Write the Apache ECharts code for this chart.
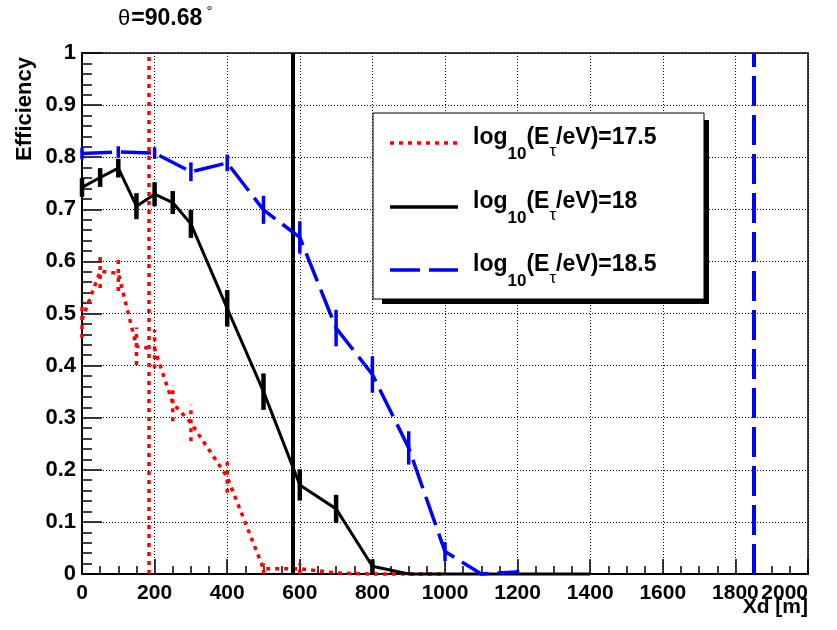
<!DOCTYPE html>
<html><head><meta charset="utf-8">
<script src="https://cdn.jsdelivr.net/npm/echarts@6/dist/echarts.min.js"></script>
<style>html,body{margin:0;padding:0;background:#fff}#c{width:837px;height:630px}</style>
</head><body><div id="c"></div>
<script>
// ---- data ----
const redX = [0, 50, 100, 150, 200, 250, 300, 400, 500, 600, 700, 800, 900, 1000];
const redY = [0.488, 0.581, 0.577, 0.437, 0.432, 0.328, 0.29, 0.186, 0.01, 0.01, 0.002, 0, 0, 0];
const redErr = [0.035, 0.032, 0.034, 0.036, 0.037, 0.035, 0.035, 0.03, 0.01, 0.01, 0, 0, 0, 0];
const blackX = [0, 50, 100, 150, 200, 250, 300, 400, 500, 600, 700, 800, 900, 1000, 1100, 1200, 1300, 1400];
const blackY = [0.742, 0.761, 0.779, 0.706, 0.729, 0.713, 0.672, 0.51, 0.35, 0.171, 0.125, 0.015, 0, 0, 0, 0, 0, 0];
const blackErr = [0.018, 0.018, 0.018, 0.025, 0.023, 0.022, 0.027, 0.035, 0.035, 0.03, 0.027, 0.013, 0, 0, 0, 0, 0, 0];
const blueX = [0, 100, 200, 300, 400, 500, 600, 700, 800, 900, 1000, 1100, 1200];
const blueY = [0.807, 0.81, 0.808, 0.772, 0.789, 0.699, 0.646, 0.472, 0.383, 0.242, 0.043, 0, 0.004];
const blueErr = [0.011, 0.011, 0.011, 0.018, 0.016, 0.027, 0.031, 0.035, 0.035, 0.032, 0.018, 0, 0.004];
const redCut = 185, blackCut = 580, blueCut = 1850;
const legendLabels = ['17.5', '18', '18.5'];
const titleText = '90.68';

const FONT = 'Liberation Sans, Arial, Helvetica, sans-serif';
const RED = '#ff0000', BLACK = '#000000', BLUE = '#0000ff';
const RED_DASH = [4, 5], BLUE_DASH = [30, 9];

function pairs(xs, ys) { return xs.map((x, i) => [x, ys[i]]); }
function triples(xs, ys, es) { return xs.map((x, i) => [x, ys[i], es[i]]); }

function lineSeries(xs, ys, color, width, type, cut, cutWidth, z) {
  return {
    type: 'line', data: pairs(xs, ys), symbol: 'none', showSymbol: false, clip: false,
    lineStyle: { color: color, width: width, type: type }, z: z, silent: true,
    markLine: {
      silent: true, symbol: ['none', 'none'], label: { show: false },
      lineStyle: { color: color, width: cutWidth, type: type }, data: [{ xAxis: cut }], animation: false
    }
  };
}
function errSeries(xs, ys, es, color, width, dash, z) {
  return {
    type: 'custom', clip: false, silent: true, z: z,
    data: triples(xs, ys, es),
    renderItem: function (params, api) {
      const x = api.value(0), y = api.value(1), e = api.value(2);
      if (!e) return null;
      const p1 = api.coord([x, y - e]), p2 = api.coord([x, y + e]);
      return { type: 'line', shape: { x1: p1[0], y1: p1[1], x2: p2[0], y2: p2[1] },
        style: { stroke: color, lineWidth: width, lineDash: dash } };
    }
  };
}

const chart = echarts.init(document.getElementById('c'));
const legendRows = [
  { y: 143, color: RED, dash: RED_DASH, w: 3.5 },
  { y: 207, color: BLACK, dash: null, w: 3.5 },
  { y: 270, color: BLUE, dash: BLUE_DASH, w: 3.5 }
];
const rich = {
  a: { fontFamily: FONT, fontWeight: 'bold', fontSize: 23, color: '#000' },
  s: { fontFamily: FONT, fontWeight: 'bold', fontSize: 17, color: '#000', padding: [32, 0, 0, 0] },
  t: { fontFamily: FONT, fontWeight: 'normal', fontSize: 17, color: '#000', padding: [27, 0, 0, 0] }
};
const graphics = [
  { type: 'rect', shape: { x: 382, y: 120, width: 327, height: 184 }, style: { fill: '#000' }, z: 100 },
  { type: 'rect', shape: { x: 373, y: 113, width: 331, height: 186 }, style: { fill: '#fff', stroke: '#000', lineWidth: 1 }, z: 101 }
];
legendRows.forEach((r, i) => {
  graphics.push({ type: 'line', shape: { x1: 390, y1: r.y, x2: 458, y2: r.y },
    style: { stroke: r.color, lineWidth: r.w, lineDash: r.dash }, z: 102 });
  graphics.push({ type: 'text', x: 473, y: r.y - 5, z: 102,
    style: { text: '{a|log}{s|10}{a|(E}{t|τ}{a|/eV)=' + legendLabels[i] + '}', rich: rich,
      align: 'left', verticalAlign: 'middle' } });
});
graphics.push({ type: 'text', x: 118, y: 19, z: 102,
  style: { text: '{t|θ}{b|=' + titleText + '}{d| °}', align: 'left', verticalAlign: 'middle',
    rich: {
      t: { fontFamily: FONT, fontSize: 22, color: '#000', padding: [0, 1, 0, 0] },
      b: { fontFamily: FONT, fontWeight: 'bold', fontSize: 23, color: '#000' },
      d: { fontFamily: FONT, fontSize: 15, color: '#000', padding: [0, 0, 14, 0] }
    } } });
graphics.push({ type: 'text', x: 25, y: 57, rotation: Math.PI / 2, z: 102,
  style: { text: 'Efficiency', fontFamily: FONT, fontWeight: 'bold', fontSize: 22, fill: '#000',
    align: 'right', verticalAlign: 'middle' } });
graphics.push({ type: 'text', x: 808, y: 607, z: 102,
  style: { text: 'Xd [m]', fontFamily: FONT, fontWeight: 'bold', fontSize: 21, fill: '#000',
    align: 'right', verticalAlign: 'middle' } });

chart.setOption({
  animation: false,
  backgroundColor: '#fff',
  grid: { left: 82, right: 29, top: 53, bottom: 56, show: true, borderColor: '#000', borderWidth: 1.5, backgroundColor: 'transparent' },
  xAxis: {
    type: 'value', min: 0, max: 2000, interval: 200,
    axisLine: { show: true, onZero: false, lineStyle: { color: '#000', width: 2 } },
    axisTick: { show: true, inside: true, length: 15, lineStyle: { color: '#000', width: 1.5 } },
    minorTick: { show: true, splitNumber: 4, length: 8, lineStyle: { color: '#000', width: 1.5 } },
    splitLine: { show: true, lineStyle: { color: '#000', width: 1, type: [1, 2] } },
    axisLabel: { color: '#000', fontFamily: FONT, fontWeight: 'bold', fontSize: 21, margin: 9,
      alignMaxLabel: 'right', formatter: v => String(v) }
  },
  yAxis: {
    type: 'value', min: 0, max: 1, interval: 0.1,
    axisLine: { show: true, onZero: false, lineStyle: { color: '#000', width: 2 } },
    axisTick: { show: true, inside: true, length: 20, lineStyle: { color: '#000', width: 1.5 } },
    minorTick: { show: true, splitNumber: 5, length: 10, lineStyle: { color: '#000', width: 1.5 } },
    splitLine: { show: true, lineStyle: { color: '#000', width: 1, type: [1, 2] } },
    axisLabel: { color: '#000', fontFamily: FONT, fontWeight: 'bold', fontSize: 22, margin: 6,
      formatter: v => String(Math.round(v * 10) / 10) }
  },
  series: [
    lineSeries(redX, redY, RED, 3.5, RED_DASH, redCut, 3.5, 3),
    errSeries(redX, redY, redErr, RED, 3.5, RED_DASH, 3),
    lineSeries(blackX, blackY, BLACK, 3, 'solid', blackCut, 4, 4),
    errSeries(blackX, blackY, blackErr, BLACK, 4.5, null, 4),
    lineSeries(blueX, blueY, BLUE, 3.5, BLUE_DASH, blueCut, 4, 5),
    errSeries(blueX, blueY, blueErr, BLUE, 3.5, null, 5)
  ],
  graphic: graphics
});
</script></body></html>
